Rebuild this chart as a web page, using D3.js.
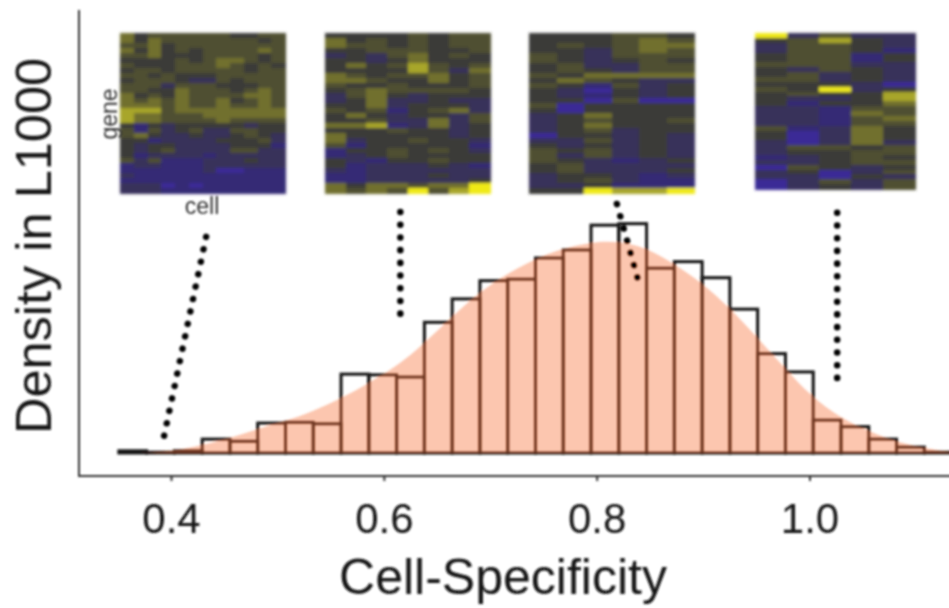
<!DOCTYPE html>
<html>
<head>
<meta charset="utf-8">
<script src="https://cdn.jsdelivr.net/npm/d3@7"></script>
<style>
  html, body { margin: 0; padding: 0; background: #fff; overflow: hidden; }
  text { font-family: "Liberation Sans", Arial, sans-serif; fill: #141414; }
</style>
</head>
<body>
<svg width="949" height="608"></svg>
<script>
const width = 949;
const height = 608;

// histogram, density units
const binStart = 0.351;
const binWidth = 0.0261;
const histValues = [0.03, 0.01, 0.03, 0.19, 0.16, 0.41, 0.42, 0.40, 1.08, 1.07,
  1.04, 1.79, 2.11, 2.36, 2.38, 2.67, 2.78, 3.12, 3.14, 2.53,
  2.62, 2.40, 1.97, 1.36, 1.11, 0.45, 0.36, 0.19, 0.08, 0.01];

// smoothed density behind the bars
const densityX = [0.35, 0.377, 0.404, 0.427, 0.455, 0.481, 0.508, 0.533, 0.559, 0.587, 0.609, 0.631, 0.653, 0.681, 0.709,
  0.742, 0.767, 0.794, 0.81, 0.831, 0.847, 0.872, 0.899, 0.925, 0.951, 0.977, 1.002, 1.029, 1.055, 1.08, 1.107, 1.132, 1.16];
const densityY = [0, 0, 0.03, 0.1, 0.2, 0.33, 0.44, 0.57, 0.74, 0.97, 1.16, 1.41, 1.71, 2.1, 2.4,
  2.66, 2.8, 2.88, 2.9, 2.87, 2.8, 2.6, 2.33, 1.99, 1.58, 1.16, 0.77, 0.48, 0.3, 0.16, 0.07, 0.01, 0];

// heatmap insets, one row per gene, one entry per cell
const heat1 = [
  [2,0,1,1,1,1,1,1,0,0,1,1],[2,0,2,1,1,1,1,1,1,1,0,1],[1,1,2,0,1,1,1,1,1,1,1,1],[2,0,2,0,1,0,1,1,1,1,2,1],
  [1,1,2,0,0,0,1,1,1,1,0,1],[0,0,0,0,1,0,1,2,2,1,0,1],[1,0,0,0,1,1,1,2,1,0,1,0],[0,1,1,0,1,1,1,1,1,0,1,1],
  [1,1,0,1,0,0,0,1,1,1,1,1],[0,1,1,1,0,-1,-1,1,0,1,1,1],[1,1,1,-1,1,1,1,0,0,0,1,1],[1,1,0,0,2,1,1,1,0,1,2,1],
  [2,0,1,0,2,1,1,1,1,2,2,1],[2,1,2,1,2,1,1,2,0,1,2,1],[2,2,2,1,2,1,1,2,1,1,2,1],[3,3,3,1,2,2,2,2,2,2,2,2],
  [3,2,2,1,1,1,2,2,2,2,2,2],[3,2,2,1,1,1,1,2,1,1,1,1],[0,-2,0,-1,0,0,0,0,0,-1,0,0],[1,-2,1,-1,0,1,-1,-1,1,1,0,0],
  [1,2,0,-1,-1,0,-1,-1,0,1,0,-1],[0,0,-2,-1,-1,-1,-1,0,0,0,1,-1],[0,-1,0,0,-1,-1,-1,-1,0,0,0,-2],[0,-1,0,1,-1,-1,-1,-1,1,1,-1,-1],
  [0,-2,-1,-1,-1,-1,-2,-1,-1,-1,-1,-1],[1,-1,1,-2,-2,-2,-1,-1,-1,0,-1,-1],[-2,-1,-1,-2,-2,-2,-1,-1,-1,-1,-1,-1],[-2,-2,-2,-2,-2,-2,-1,-3,-3,-2,-2,-2],
  [-1,-2,-2,-2,-2,-2,-2,-2,-2,-2,-2,-2],[-2,-2,-2,-2,-2,-2,-2,-2,-2,-2,-2,-2],[-1,-1,-1,-3,-2,-3,-2,-2,-2,-2,-2,-2],[-1,-1,-1,-2,-2,-2,-2,-2,-2,-2,-2,-2]
];
const heat2 = [
  [0,0,0,0,1,0,1,1],[2,0,1,0,1,0,1,1],[2,1,1,0,1,0,1,1],[0,0,1,1,1,0,0,1],
  [-1,0,-1,1,2,0,1,0],[0,0,-1,0,2,0,0,0],[0,2,0,1,3,1,0,1],[0,0,0,0,3,1,-1,2],
  [2,1,0,1,1,2,0,1],[2,2,1,0,0,2,0,1],[1,0,0,1,0,0,0,1],[0,1,2,1,1,1,1,0],
  [-1,1,2,0,-1,0,0,0],[-1,0,2,-1,-1,0,-1,-1],[0,0,2,-1,0,0,0,-1],[1,0,1,-2,0,1,2,-1],
  [0,2,0,-1,0,0,-1,1],[0,0,1,-1,-1,2,-1,1],[2,2,3,-2,-1,2,-1,0],[0,0,0,1,0,0,-1,0],
  [2,0,0,0,0,0,-1,0],[2,-1,0,0,1,0,0,-1],[1,-2,0,0,0,0,0,-2],[-2,0,0,1,0,1,0,-1],
  [-2,-1,0,1,0,0,0,0],[0,-1,-2,0,0,1,0,0],[0,-2,-1,-1,-1,0,-1,-2],[-1,-2,-1,-1,-1,-1,-1,-1],
  [-2,-2,-1,-1,-1,0,-1,-1],[-2,-2,-1,-1,-1,-1,-1,0],[2,0,2,2,1,2,2,4],[2,1,2,1,4,1,3,4]
];
const heat3 = [
  [0,0,0,1,1,0],[0,0,0,1,2,1],[0,1,0,1,2,2],[0,0,-1,1,2,1],
  [1,0,-1,1,1,1],[1,0,-1,0,1,0],[0,1,-1,-1,1,1],[0,1,0,-1,1,1],
  [1,0,2,2,2,2],[0,2,1,0,-1,-1],[1,0,-2,1,-1,0],[0,-1,-3,0,-1,0],
  [0,-1,-2,0,-1,0],[0,0,-3,1,-3,-3],[1,-3,0,0,0,0],[0,-3,0,0,0,0],
  [-1,0,2,0,0,0],[-1,0,1,0,0,1],[-1,0,2,0,0,0],[-1,0,1,-1,0,0],
  [-3,0,0,-1,0,-1],[-1,-1,1,-1,0,-1],[0,-1,0,-1,0,-1],[1,0,1,-1,0,-1],
  [1,-1,1,-1,0,-1],[1,0,-1,-2,-1,0],[0,1,-1,-1,-1,-1],[0,1,-1,-1,-1,0],
  [-1,0,0,-1,-2,-1],[-1,0,1,-1,-2,-2],[-1,-1,0,-2,-2,-2],[0,0,4,3,3,4]
];
const heat4 = [
  [4,-1,1,-1,-1],[0,1,3,0,-1],[-1,1,1,0,-1],[-1,1,1,0,-2],[0,1,1,-2,0],[0,1,1,-2,0],[1,1,1,-1,-1],
  [0,-1,1,0,-1],[0,1,-1,0,-1],[1,1,-1,0,-1],[0,0,0,-1,-3],[1,0,4,-1,0],[0,1,0,0,3],[0,-1,-1,0,3],
  [0,-2,0,0,2],[-1,-1,-2,1,1],[-1,-1,-2,2,1],[-1,-1,-2,1,2],[-1,-1,-2,1,1],[1,-2,-1,2,0],[0,-3,-1,2,0],
  [0,-3,-1,2,0],[-1,-3,-1,2,-1],[-1,1,1,0,1],[-1,0,0,1,1],[-2,-1,0,1,0],[-1,-1,0,1,1],[-3,1,0,-1,0],
  [-1,0,-3,-1,1],[-1,-1,-3,0,-1],[-3,-1,1,-1,1],[-3,-1,0,-1,1]
];
const heatmaps = [heat1, heat2, heat3, heat4];
const heatLeft = [120, 325, 529, 755];
const heatRight = [285, 490, 694, 915];
const heatBottom = [193, 193, 193, 189];
const heatTop = 33;

const colorLevels = [-4, -3, -2, -1, 0, 1, 2, 3, 4];
const colorStops = ["#3558c6", "#3a2a96", "#352a74", "#39325a", "#3b3a38", "#504f32", "#71702e", "#a8a62a", "#f0ea18"];

// dotted guides linking each inset to the histogram
const guideX = [[0.433, 0.393], [0.6155, 0.6155], [0.819, 0.839], [1.026, 1.026]];
const guideY = [[2.96, 0.2], [3.30, 1.82], [3.41, 2.36], [3.29, 1.0]];

const xTicks = [0.4, 0.6, 0.8, 1.0];

const x = d3.scaleLinear().domain([0.4, 1.0]).range([171, 809.5]);
const y = d3.scaleLinear().domain([0, 3.3]).range([453, 212]);
const heatColor = d3.scaleLinear().domain(colorLevels).range(colorStops);

const svg = d3.select("svg");

// source image is a soft raster, so everything gets a slight blur
const addBlur = (id, amount) => svg.append("filter")
  .attr("id", id)
  .attr("x", "-5%").attr("y", "-5%").attr("width", "110%").attr("height", "110%")
  .append("feGaussianBlur")
  .attr("stdDeviation", amount);
addBlur("soft", 0.8);
addBlur("softer", 1.3);

const g = svg.append("g").attr("filter", "url(#soft)");

// bars first, the translucent density then tints their outlines
g.append("g")
  .selectAll("rect")
  .data(histValues)
  .join("rect")
  .attr("x", (d, i) => x(binStart + i * binWidth))
  .attr("width", (d, i) => x(binStart + (i + 1) * binWidth) - x(binStart + i * binWidth))
  .attr("y", d => y(d))
  .attr("height", d => y(0) - y(d))
  .attr("fill", "none")
  .attr("stroke", "#141414")
  .attr("stroke-width", 3);

const area = d3.area()
  .x((d, i) => x(densityX[i]))
  .y0(y(0))
  .y1(d => y(d))
  .curve(d3.curveBasis);

g.append("path")
  .datum(densityY)
  .attr("d", area)
  .attr("fill", "#f87039")
  .attr("fill-opacity", 0.4);

// heatmap insets
heatmaps.forEach((rows, h) => {
  const cx = d3.scaleBand().domain(d3.range(rows[0].length)).range([heatLeft[h], heatRight[h]]);
  const cy = d3.scaleBand().domain(d3.range(rows.length)).range([heatTop, heatBottom[h]]);
  const inset = g.append("g").attr("filter", "url(#softer)").attr("shape-rendering", "crispEdges");
  rows.forEach((row, r) => {
    inset.selectAll(null)
      .data(row)
      .join("rect")
      .attr("x", (d, c) => cx(c))
      .attr("y", cy(r))
      .attr("width", cx.bandwidth() + 0.5)
      .attr("height", cy.bandwidth() + 0.5)
      .attr("fill", d => heatColor(d));
  });
});

g.append("text")
  .attr("transform", "translate(117,114) rotate(-90)")
  .attr("text-anchor", "middle")
  .attr("font-size", 23)
  .style("fill", "#333")
  .text("gene");

g.append("text")
  .attr("x", 202)
  .attr("y", 214)
  .attr("text-anchor", "middle")
  .attr("font-size", 23)
  .style("fill", "#333")
  .text("cell");

// dotted guides
const guideLine = d3.line().x(d => x(d[0])).y(d => y(d[1]));
g.append("g")
  .selectAll("path")
  .data(guideX.map((xs, i) => xs.map((v, j) => [v, guideY[i][j]])))
  .join("path")
  .attr("d", guideLine)
  .attr("fill", "none")
  .attr("stroke", "#000")
  .attr("stroke-width", 6.5)
  .attr("stroke-linecap", "round")
  .attr("stroke-dasharray", "0.1 12.6");

// axes
const axisY = 476;
const xAxis = g.append("g")
  .attr("transform", `translate(0,${axisY})`)
  .call(d3.axisBottom(x).tickValues(xTicks).tickFormat(d3.format(".1f")).tickSize(5).tickPadding(22));
xAxis.select(".domain").remove();
xAxis.selectAll("line").attr("stroke", "#333").attr("stroke-width", 2);
xAxis.selectAll("text").attr("font-size", 42);

g.append("line")
  .attr("x1", 79).attr("x2", width + 5)
  .attr("y1", axisY).attr("y2", axisY)
  .attr("stroke", "#333").attr("stroke-width", 2);

g.append("line")
  .attr("x1", 79).attr("x2", 79)
  .attr("y1", 10).attr("y2", axisY + 1)
  .attr("stroke", "#333").attr("stroke-width", 2);

g.append("text")
  .attr("x", 503)
  .attr("y", 594)
  .attr("text-anchor", "middle")
  .attr("font-size", 50)
  .text("Cell-Specificity");

g.append("text")
  .attr("transform", "translate(51,246) rotate(-90)")
  .attr("text-anchor", "middle")
  .attr("font-size", 50.5)
  .text("Density in L1000");
</script>
</body>
</html>
